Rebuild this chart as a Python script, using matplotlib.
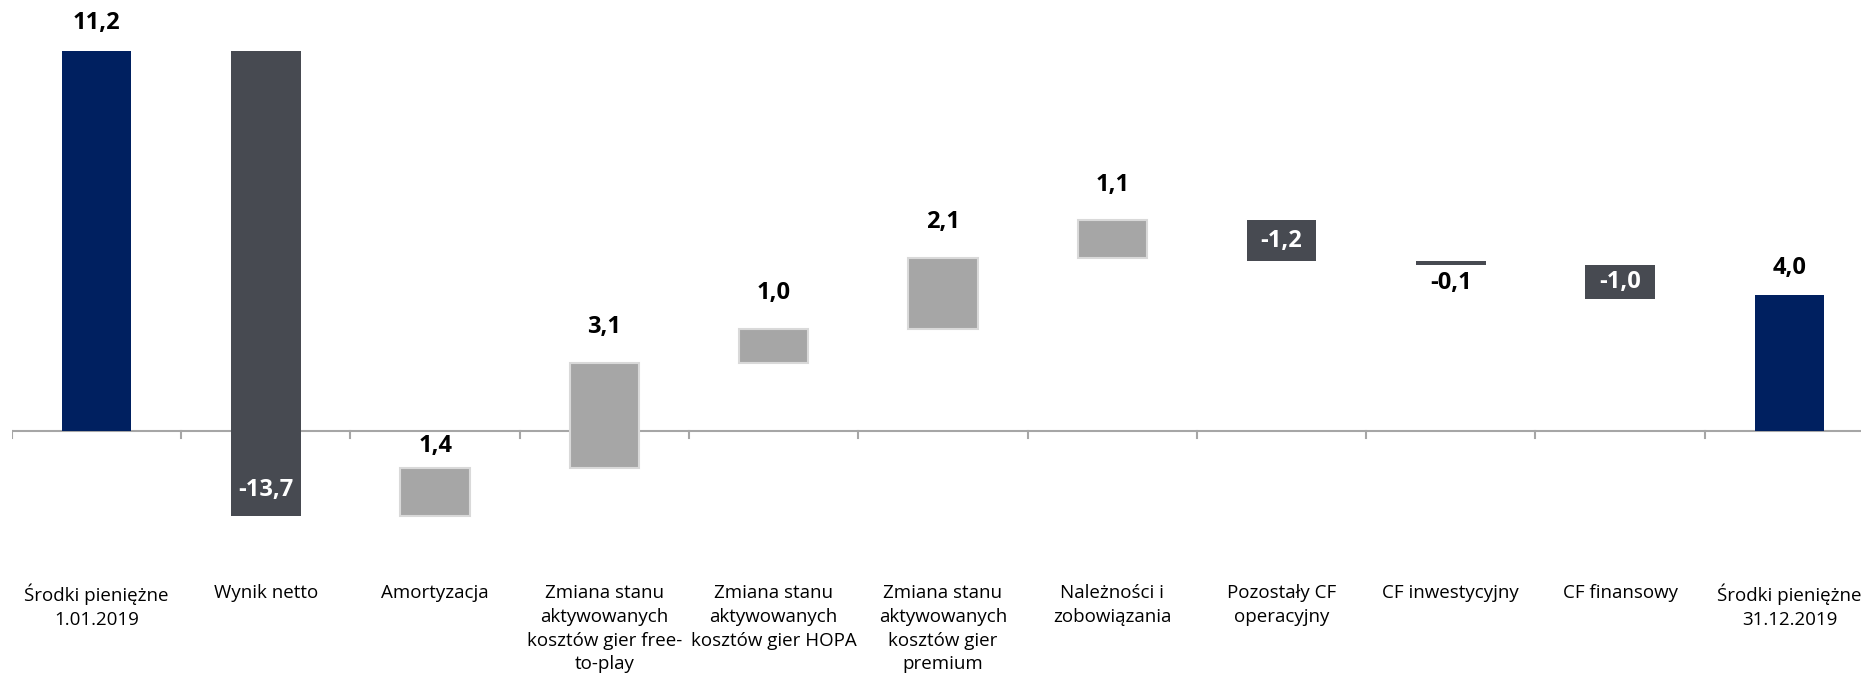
import numpy as np
import matplotlib.pyplot as plt

plt.rcParams['font.family'] = ['Open Sans', 'DejaVu Sans']

# Cash flow bridge 2019 (mln PLN)
categories = [
    "Środki pieniężne\n1.01.2019",
    "Wynik netto",
    "Amortyzacja",
    "Zmiana stanu\naktywowanych\nkosztów gier free-\nto-play",
    "Zmiana stanu\naktywowanych\nkosztów gier HOPA",
    "Zmiana stanu\naktywowanych\nkosztów gier\npremium",
    "Należności i\nzobowiązania",
    "Pozostały CF\noperacyjny",
    "CF inwestycyjny",
    "CF finansowy",
    "Środki pieniężne\n31.12.2019",
]
values = [11.2, -13.7, 1.4, 3.1, 1.0, 2.1, 1.1, -1.2, -0.1, -1.0, 4.0]
kinds = ["total", "neg", "pos", "pos", "pos", "pos", "pos", "neg", "neg", "neg", "total"]

NAVY = "#002060"
DARK = "#474A51"
LIGHT = "#A6A6A6"

# floating bars: each change starts where the previous running total ended
bottoms = []
running = 0.0
for v, k in zip(values, kinds):
    if k == "total":
        bottoms.append(0.0)
        running = v
    else:
        bottoms.append(running)
        running += v

fig = plt.figure(figsize=(18.61, 6.83), dpi=100)
ax = fig.add_axes([0.0064, 0.0, 1.0006, 1.0])

x = np.arange(len(categories))
colors = [NAVY if k == "total" else DARK if k == "neg" else LIGHT for k in kinds]
edges = ["none" if k != "pos" else "#D9D9D9" for k in kinds]
ax.bar(x, values, bottom=bottoms, width=0.41, color=colors, edgecolor=edges,
       linewidth=1.5, zorder=3)

for i, (v, b, k) in enumerate(zip(values, bottoms, kinds)):
    txt = f"{v:.1f}".replace(".", ",")
    top = max(b, b + v)
    low = min(b, b + v)
    if k == "total":
        ax.text(i, top + 0.45, txt, ha="center", va="bottom", fontsize=17,
                fontweight="bold", color="black")
    elif k == "pos":
        gap = 0.3 if top < 0 else 0.7
        ax.text(i, top + gap, txt, ha="center", va="bottom", fontsize=17,
                fontweight="bold", color="black")
    elif abs(v) < 0.5:
        ax.text(i, low - 0.2, txt, ha="center", va="top", fontsize=17,
                fontweight="bold", color="black")
    elif abs(v) > 5:
        ax.text(i, low + 0.75, txt, ha="center", va="center", fontsize=17,
                fontweight="bold", color="white")
    else:
        ax.text(i, (top + low) / 2, txt, ha="center", va="center", fontsize=17,
                fontweight="bold", color="white")

for i, c in enumerate(categories):
    ax.text(i, -4.5, c, ha="center", va="top", fontsize=13.5, color="black",
            linespacing=1.42)

ax.set_xlim(-0.5, len(categories) - 0.5)
ax.set_ylim(-7.42, 12.69)

# category axis on the zero line with ticks between categories
ax.axhline(0, color="#A6A6A6", linewidth=1.5, zorder=2)
for t in np.arange(-0.5, len(categories), 1.0):
    ax.plot([t, t], [0, -0.22], color="#A6A6A6", linewidth=1.5, zorder=2)

ax.set_xticks([])
ax.set_yticks([])
for s in ax.spines.values():
    s.set_visible(False)

fig.savefig("out.png", dpi=100)
